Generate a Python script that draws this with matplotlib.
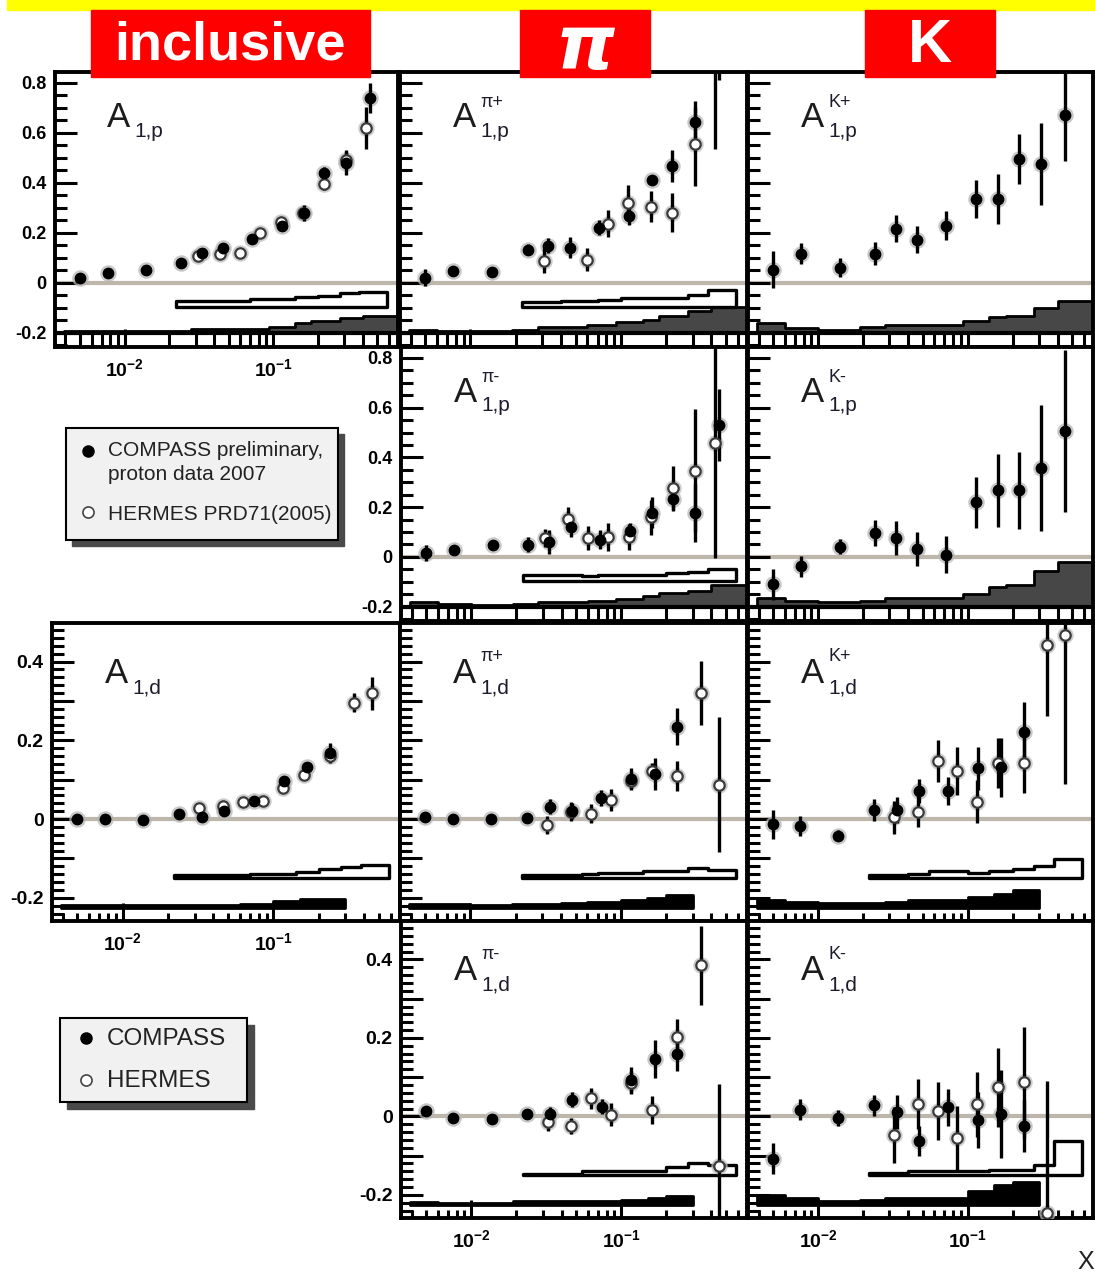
import numpy as np
import matplotlib
matplotlib.use('Agg')
import matplotlib.pyplot as plt
from matplotlib.patches import Rectangle
from matplotlib.ticker import FixedLocator, LogLocator, NullFormatter, FuncFormatter

plt.rcParams['font.family'] = ['Liberation Sans', 'DejaVu Sans']
plt.rcParams['mathtext.fontset'] = 'custom'
plt.rcParams['mathtext.rm'] = 'Liberation Sans'
plt.rcParams['mathtext.bf'] = 'Liberation Sans:bold'

nan = np.nan
W, H = 1095, 1272

# ---- x bins ----
x_comp_p = [0.005, 0.0077, 0.014, 0.024, 0.033, 0.046, 0.072, 0.114, 0.16, 0.22, 0.31, 0.45]
x_herm_p = [0.031, 0.044, 0.06, 0.082, 0.112, 0.159, 0.22, 0.31, 0.42]
x_comp_d = [0.005, 0.0076, 0.0137, 0.0237, 0.0337, 0.047, 0.074, 0.117, 0.168, 0.237]
x_herm_d = [0.0323, 0.0465, 0.063, 0.0856, 0.116, 0.16, 0.237, 0.34, 0.447]

edges_comp_p = [0.0039, 0.006, 0.01, 0.019, 0.028, 0.04, 0.06, 0.093, 0.14, 0.18, 0.28, 0.4, 0.7]
edges_comp_d = [0.0039, 0.006, 0.01, 0.019, 0.028, 0.04, 0.06, 0.1, 0.15, 0.2, 0.3]
edges_herm = [0.022, 0.04, 0.055, 0.07, 0.1, 0.14, 0.2, 0.28, 0.38, 0.58]

# ---- proton, inclusive ----
incl_p_c = [0.02, 0.04, 0.052, 0.08, 0.12, 0.14, 0.176, 0.228, 0.28, 0.44, 0.48, 0.74]
incl_p_c_err = [0.008, 0.01, 0.008, 0.01, 0.012, 0.012, 0.012, 0.014, 0.033, 0.025, 0.05, 0.059]
incl_p_h = [0.108, 0.116, 0.12, 0.20, 0.244, 0.28, 0.396, 0.49, 0.62]
incl_p_h_err = [0.012, 0.012, 0.012, 0.015, 0.018, 0.02, 0.025, 0.035, 0.085]
incl_p_syst_h = [-0.072, -0.072, -0.072, -0.065, -0.065, -0.059, -0.052, -0.043, -0.039]
incl_p_syst_c = [-0.195, -0.195, -0.195, -0.195, -0.185, -0.185, -0.185, -0.176, -0.163, -0.155, -0.141, -0.132]

# ---- proton, pi+ ----
pip_p_c = [0.02, 0.048, 0.044, 0.132, 0.148, 0.14, 0.22, 0.268, 0.412, 0.468, 0.644, 1.3]
pip_p_c_err = [0.033, 0.012, 0.012, 0.023, 0.03, 0.042, 0.03, 0.037, 0.015, 0.063, 0.06, 0.49]
pip_p_h = [0.088, nan, 0.092, 0.236, 0.32, 0.304, 0.28, 0.556, 1.0]
pip_p_h_err = [0.05, nan, 0.047, 0.053, 0.073, 0.062, 0.079, 0.17, 0.464]
pip_p_syst_h = [-0.079, -0.072, -0.072, -0.068, -0.063, -0.063, -0.063, -0.048, -0.029]
pip_p_syst_c = [-0.189, -0.195, -0.195, -0.189, -0.179, -0.179, -0.168, -0.159, -0.149, -0.132, -0.115, -0.099]

# ---- proton, K+ ----
kp_p_c = [0.052, 0.116, 0.06, 0.116, 0.216, 0.172, 0.228, 0.336, 0.336, 0.496, 0.476, 0.672]
kp_p_c_err = [0.073, 0.043, 0.037, 0.047, 0.055, 0.053, 0.057, 0.077, 0.10, 0.10, 0.163, 0.185]
kp_p_syst_c = [-0.161, -0.183, -0.188, -0.179, -0.168, -0.168, -0.168, -0.155, -0.139, -0.132, -0.103, -0.072]

# ---- proton, pi- ----
pim_p_c = [0.016, 0.026, 0.049, 0.049, 0.06, 0.119, 0.069, 0.103, 0.178, 0.234, 0.176, 0.53]
pim_p_c_err = [0.033, 0.01, 0.01, 0.03, 0.047, 0.039, 0.037, 0.035, 0.063, 0.05, 0.117, 0.144]
pim_p_h = [0.076, 0.153, 0.076, 0.08, 0.079, 0.159, 0.277, 0.346, 0.457]
pim_p_h_err = [0.037, 0.047, 0.05, 0.057, 0.053, 0.07, 0.087, 0.247, 0.46]
pim_p_syst_h = [-0.071, -0.071, -0.079, -0.071, -0.071, -0.071, -0.065, -0.059, -0.048]
pim_p_syst_c = [-0.18, -0.188, -0.193, -0.188, -0.18, -0.18, -0.178, -0.171, -0.158, -0.145, -0.136, -0.114]

# ---- proton, K- ----
km_p_c = [-0.111, -0.038, 0.04, 0.096, 0.076, 0.032, 0.009, 0.22, 0.267, 0.267, 0.357, 0.506]
km_p_c_err = [0.061, 0.042, 0.03, 0.052, 0.067, 0.069, 0.073, 0.103, 0.147, 0.156, 0.254, 0.327]
km_p_syst_c = [-0.167, -0.178, -0.183, -0.178, -0.167, -0.167, -0.167, -0.148, -0.122, -0.114, -0.058, -0.021]

# ---- deuteron, inclusive ----
incl_d_c = [0.0, 0.0, -0.003, 0.013, 0.004, 0.02, 0.046, 0.097, 0.133, 0.167]
incl_d_c_err = [0.005, 0.005, 0.005, 0.006, 0.007, 0.008, 0.008, 0.01, 0.012, 0.025]
incl_d_h = [0.029, 0.033, 0.044, 0.046, 0.078, 0.112, 0.16, 0.296, 0.32]
incl_d_h_err = [0.01, 0.01, 0.008, 0.008, 0.01, 0.012, 0.015, 0.025, 0.042]
incl_d_syst_h = [-0.142, -0.142, -0.142, -0.139, -0.139, -0.135, -0.128, -0.121, -0.117]
incl_d_syst_c = [-0.219, -0.219, -0.219, -0.219, -0.219, -0.219, -0.216, -0.209, -0.204, -0.204]

# ---- deuteron, pi+ ----
pip_d_c = [0.004, 0.0, 0.0, 0.002, 0.031, 0.021, 0.053, 0.101, 0.114, 0.235]
pip_d_c_err = [0.01, 0.008, 0.008, 0.008, 0.019, 0.02, 0.02, 0.028, 0.04, 0.046]
pip_d_h = [-0.015, 0.019, 0.014, 0.048, 0.097, 0.123, 0.11, 0.321, 0.087]
pip_d_h_err = [0.023, 0.024, 0.023, 0.028, 0.02, 0.02, 0.038, 0.081, 0.171]
pip_d_syst_h = [-0.142, -0.142, -0.14, -0.137, -0.137, -0.132, -0.132, -0.124, -0.129]
pip_d_syst_c = [-0.215, -0.215, -0.219, -0.217, -0.215, -0.213, -0.211, -0.205, -0.2, -0.194]

# ---- deuteron, K+ ----
kp_d_c = [-0.013, -0.017, -0.042, 0.023, 0.023, 0.071, 0.071, 0.129, 0.131, 0.22]
kp_d_c_err = [0.037, 0.025, 0.015, 0.028, 0.034, 0.031, 0.035, 0.055, 0.076, 0.078]
kp_d_h = [0.004, 0.019, 0.148, 0.123, 0.044, 0.143, 0.143, 0.443, 0.468]
kp_d_h_err = [0.042, 0.04, 0.054, 0.061, 0.054, 0.063, 0.076, 0.18, 0.38]
kp_d_syst_h = [-0.142, -0.139, -0.132, -0.132, -0.136, -0.132, -0.128, -0.119, -0.102]
kp_d_syst_c = [-0.206, -0.21, -0.214, -0.214, -0.21, -0.206, -0.206, -0.198, -0.191, -0.179]

# ---- deuteron, pi- ----
pim_d_c = [0.014, -0.003, -0.007, 0.005, 0.005, 0.042, 0.025, 0.093, 0.146, 0.158]
pim_d_c_err = [0.01, 0.008, 0.008, 0.008, 0.019, 0.019, 0.019, 0.034, 0.049, 0.042]
pim_d_h = [-0.015, -0.025, 0.046, 0.004, 0.086, 0.017, 0.203, 0.385, -0.127]
pim_d_h_err = [0.023, 0.021, 0.026, 0.029, 0.03, 0.036, 0.044, 0.1, 0.21]
pim_d_syst_h = [-0.146, -0.146, -0.14, -0.14, -0.14, -0.14, -0.13, -0.12, -0.124]
pim_d_syst_c = [-0.219, -0.22, -0.22, -0.216, -0.216, -0.216, -0.216, -0.213, -0.209, -0.204]

# ---- deuteron, K- ----
km_d_c = [-0.108, 0.017, -0.004, 0.028, 0.011, -0.063, 0.023, -0.009, 0.006, -0.025]
km_d_c_err = [0.039, 0.027, 0.02, 0.027, 0.044, 0.039, 0.048, 0.072, 0.112, 0.066]
km_d_h = [-0.048, 0.031, 0.013, -0.055, 0.031, 0.074, 0.087, -0.245, nan]
km_d_h_err = [0.071, 0.064, 0.074, 0.082, 0.083, 0.1, 0.141, 0.335, nan]
km_d_syst_h = [-0.144, -0.14, -0.14, -0.14, -0.14, -0.137, -0.137, -0.124, -0.062]
km_d_syst_c = [-0.2, -0.207, -0.216, -0.212, -0.207, -0.207, -0.207, -0.19, -0.174, -0.166]

header_labels = ['inclusive', 'π', 'K']
legend1_lines = ['COMPASS preliminary,', 'proton data 2007', 'HERMES PRD71(2005)']
legend2_labels = ['COMPASS', 'HERMES']

fig = plt.figure(figsize=(W / 100, H / 100), dpi=100)


def px_axes(l, t, r, b):
    return fig.add_axes([l / W, 1 - b / H, (r - l) / W, (b - t) / H])


def step_band(ax, edges, tops, base, face, lw):
    xs = np.repeat(np.asarray(edges), 2)[1:-1]
    ys = np.repeat(np.asarray(tops), 2)
    ax.fill_between(xs, base, ys, facecolor=face, edgecolor='black', linewidth=lw, zorder=2)


def ylab(v, pos):
    if abs(v / 0.2 - round(v / 0.2)) > 1e-6:
        return ''
    if abs(v) < 1e-9:
        return '0'
    return '%.1f' % v


panels = [
    dict(rect=(55, 72, 398, 347), kind='p', sup='', sub='1,p', xc=x_comp_p, yc=incl_p_c, ec=incl_p_c_err,
         yh=incl_p_h, eh=incl_p_h_err, sh=incl_p_syst_h, sc=incl_p_syst_c, ylab=True, xlab=True),
    dict(rect=(400, 72, 747, 347), kind='p', sup='π+', sub='1,p', xc=x_comp_p, yc=pip_p_c, ec=pip_p_c_err,
         yh=pip_p_h, eh=pip_p_h_err, sh=pip_p_syst_h, sc=pip_p_syst_c, ylab=False, xlab=False),
    dict(rect=(748, 72, 1093, 347), kind='p', sup='K+', sub='1,p', xc=x_comp_p, yc=kp_p_c, ec=kp_p_c_err,
         yh=None, eh=None, sh=None, sc=kp_p_syst_c, ylab=False, xlab=False),
    dict(rect=(401, 347, 747, 621), kind='p', sup='π-', sub='1,p', xc=x_comp_p, yc=pim_p_c, ec=pim_p_c_err,
         yh=pim_p_h, eh=pim_p_h_err, sh=pim_p_syst_h, sc=pim_p_syst_c, ylab=True, xlab=False),
    dict(rect=(748, 347, 1093, 621), kind='p', sup='K-', sub='1,p', xc=x_comp_p, yc=km_p_c, ec=km_p_c_err,
         yh=None, eh=None, sh=None, sc=km_p_syst_c, ylab=False, xlab=False),
    dict(rect=(52, 623, 400, 921), kind='d', sup='', sub='1,d', xc=x_comp_d, yc=incl_d_c, ec=incl_d_c_err,
         yh=incl_d_h, eh=incl_d_h_err, sh=incl_d_syst_h, sc=incl_d_syst_c, ylab=True, xlab=True),
    dict(rect=(400, 623, 747, 921), kind='d', sup='π+', sub='1,d', xc=x_comp_d, yc=pip_d_c, ec=pip_d_c_err,
         yh=pip_d_h, eh=pip_d_h_err, sh=pip_d_syst_h, sc=pip_d_syst_c, ylab=False, xlab=False),
    dict(rect=(748, 623, 1093, 921), kind='d', sup='K+', sub='1,d', xc=x_comp_d, yc=kp_d_c, ec=kp_d_c_err,
         yh=kp_d_h, eh=kp_d_h_err, sh=kp_d_syst_h, sc=kp_d_syst_c, ylab=False, xlab=False),
    dict(rect=(401, 921, 747, 1218), kind='d', sup='π-', sub='1,d', xc=x_comp_d, yc=pim_d_c, ec=pim_d_c_err,
         yh=pim_d_h, eh=pim_d_h_err, sh=pim_d_syst_h, sc=pim_d_syst_c, ylab=True, xlab=True),
    dict(rect=(748, 921, 1093, 1218), kind='d', sup='K-', sub='1,d', xc=x_comp_d, yc=km_d_c, ec=km_d_c_err,
         yh=km_d_h, eh=km_d_h_err, sh=km_d_syst_h, sc=km_d_syst_c, ylab=False, xlab=True),
]

for p in panels:
    ax = px_axes(*p['rect'])
    ax.set_xscale('log')
    ax.set_xlim(0.0034, 0.69)
    proton = p['kind'] == 'p'
    if proton:
        ax.set_ylim(-0.258, 0.844)
        ax.yaxis.set_major_locator(FixedLocator(np.arange(-0.2, 0.81, 0.2)))
        ax.yaxis.set_minor_locator(FixedLocator(np.arange(-0.25, 0.84, 0.05)))
        xh, xc_edges, base_h, base_c, cface = x_herm_p, edges_comp_p, -0.098, -0.203, '#474747'
        xminor_len, ylab_fs = 9.5, 13
    else:
        ax.set_ylim(-0.259, 0.498)
        ax.yaxis.set_major_locator(FixedLocator(np.arange(-0.2, 0.41, 0.1)))
        ax.yaxis.set_minor_locator(FixedLocator(np.arange(-0.24, 0.49, 0.02)))
        xh, xc_edges, base_h, base_c, cface = x_herm_d, edges_comp_d, -0.149, -0.225, 'black'
        xminor_len, ylab_fs = 6, 14
    ax.yaxis.set_major_formatter(FuncFormatter(ylab))
    ax.xaxis.set_major_locator(LogLocator(base=10, numticks=10))
    ax.xaxis.set_minor_locator(LogLocator(base=10, subs=np.arange(2, 10), numticks=30))
    ax.xaxis.set_minor_formatter(NullFormatter())
    ax.xaxis.set_major_formatter(FuncFormatter(lambda v, pos: r'$\mathbf{10^{%d}}$' % round(np.log10(v))))

    ax.tick_params(axis='both', which='both', direction='in', width=2.2, color='black',
                   top=False, right=False)
    ax.tick_params(axis='x', which='major', length=13, pad=8, labelsize=14)
    ax.tick_params(axis='x', which='minor', length=xminor_len)
    ax.tick_params(axis='y', which='major', length=16, pad=6, labelsize=ylab_fs)
    ax.tick_params(axis='y', which='minor', length=8.5)
    for lab in ax.get_yticklabels():
        lab.set_fontweight('bold')
    ax.tick_params(labelleft=p['ylab'], labelbottom=p['xlab'])
    for s in ax.spines.values():
        s.set_linewidth(2.8)

    ax.axhline(0, color='#bfb6ab', lw=3, zorder=1)

    # systematic bands
    step_band(ax, xc_edges[:len(p['sc']) + 1], p['sc'], base_c, cface, 2.0)
    if proton:
        ax.axhline(base_c, color='black', lw=3, zorder=2)
    if p['sh'] is not None:
        step_band(ax, edges_herm, p['sh'], base_h, 'none', 2.4)

    # data
    ax.errorbar(p['xc'], p['yc'], yerr=p['ec'], fmt='none', ecolor='black', elinewidth=2.4, zorder=4)
    if p['yh'] is not None:
        ax.errorbar(xh, p['yh'], yerr=p['eh'], fmt='none', ecolor='black', elinewidth=2.4, zorder=4)
        ax.plot(xh, p['yh'], 'o', ms=11, color='#bdbdbd', alpha=0.6, zorder=3)
        ax.plot(xh, p['yh'], 'o', ms=7.5, mfc='white', mec='#3a3a3a', mew=1.6, zorder=5)
    ax.plot(p['xc'], p['yc'], 'o', ms=11, color='#b5b5b5', alpha=0.6, zorder=3)
    ax.plot(p['xc'], p['yc'], 'o', ms=7.5, color='black', zorder=6)

    # panel title
    ax.text(0.152, 0.80, 'A', transform=ax.transAxes, fontsize=25, color='#1c1c1c', zorder=7)
    ax.text(0.232, 0.765, p['sub'], transform=ax.transAxes, fontsize=15, color='#1c1c2c', zorder=7)
    if p['sup']:
        ax.text(0.232, 0.872, p['sup'], transform=ax.transAxes, fontsize=13, color='#1c1c2c', zorder=7)

# ---- overlay: header, legends, axis label ----
ov = fig.add_axes([0, 0, 1, 1], zorder=10)
ov.set_xlim(0, W)
ov.set_ylim(H, 0)
ov.axis('off')
ov.patch.set_visible(False)

ov.add_patch(Rectangle((7, 0), W - 7, 10, color='#ffff00'))
for lab, (x0, x1), fs in zip(header_labels, [(91, 370), (520, 650), (865, 995)], [39, 54, 44]):
    ov.add_patch(Rectangle((x0, 10), x1 - x0, 67, color='#ff0000'))
    if lab == 'π':
        ov.text((x0 + x1) / 2, 49, lab, color='white', fontsize=fs, fontweight='bold',
                fontstyle='oblique', ha='center', va='center', family=['DejaVu Sans'])
    else:
        ov.text((x0 + x1) / 2, 46, lab, color='white', fontsize=fs, fontweight='bold',
                ha='center', va='center')

# legend 1
ov.add_patch(Rectangle((72, 434), 272, 112, color='#4a4a4a'))
ov.add_patch(Rectangle((66, 428), 272, 112, facecolor='#f1f1f1', edgecolor='black', lw=1.5))
ov.plot([88], [451], 'o', ms=8, color='black')
ov.plot([88], [512], 'o', ms=8, mfc='white', mec='#444444', mew=1.2)
for txt, yy in zip(legend1_lines, [450, 474, 515]):
    ov.text(108, yy, txt, fontsize=15, color='#222222', va='center')

# legend 2
ov.add_patch(Rectangle((67, 1025), 187, 84, color='#4a4a4a'))
ov.add_patch(Rectangle((60, 1018), 187, 84, facecolor='#f1f1f1', edgecolor='black', lw=1.5))
ov.plot([86], [1038], 'o', ms=8, color='black')
ov.plot([86], [1080], 'o', ms=8, mfc='white', mec='#444444', mew=1.2)
for txt, yy in zip(legend2_labels, [1039, 1081]):
    ov.text(107, yy, txt, fontsize=17.5, color='#222222', va='center')

ov.text(1086, 1262, 'X', fontsize=18, color='#222222', ha='center', va='center')

fig.savefig('out.png', dpi=100, facecolor='white')
